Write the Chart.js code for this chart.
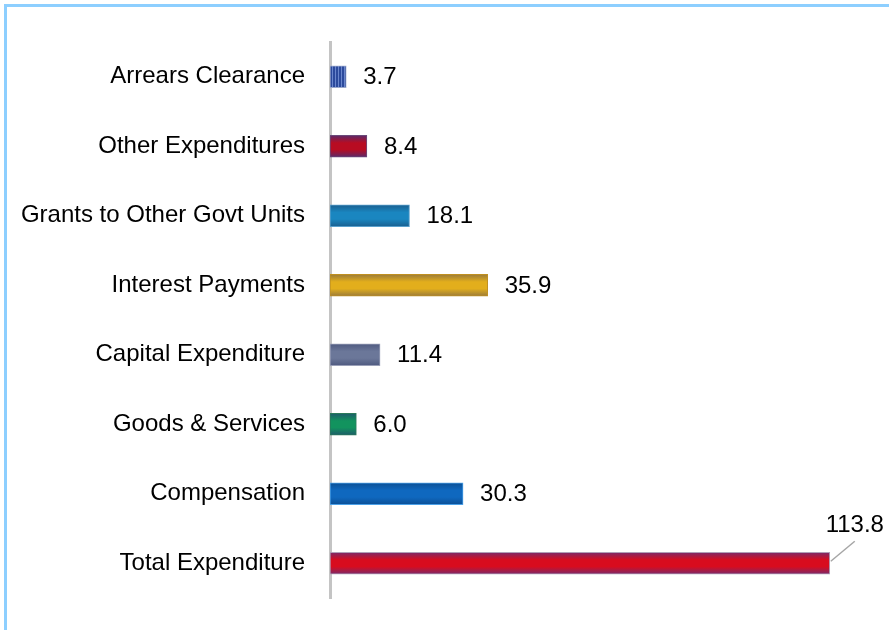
<!DOCTYPE html>
<html>
<head>
<meta charset="utf-8">
<script src="https://cdn.jsdelivr.net/npm/chart.js@4.4.0/dist/chart.umd.min.js"></script>
<style>
  html, body { margin: 0; padding: 0; background: #fff; }
  #wrap { position: relative; width: 889px; height: 630px; }
  #frame { position: absolute; left: 4px; top: 4px; right: 0; bottom: 0;
           border-top: 3px solid #8dcfff; border-left: 3px solid #8dcfff; pointer-events: none; }
  canvas { position: absolute; left: 0; top: 0; }
</style>
</head>
<body>
<div id="wrap">
  <canvas id="gasto" width="889" height="630"></canvas>
  <div id="frame"></div>
</div>
<script>
// categorias y valores
const categorias = ['Arrears Clearance', 'Other Expenditures', 'Grants to Other Govt Units',
  'Interest Payments', 'Capital Expenditure', 'Goods & Services', 'Compensation', 'Total Expenditure']
const valores = [3.7, 8.4, 18.1, 35.9, 11.4, 6.0, 30.3, 113.8]

// colores de cada barra: [centro, borde]
const centros = ['#3a5bb0', '#b80c22', '#1a86c0', '#e2ae1c', '#6b7799', '#12935e', '#0f68bf', '#d80c1e']
const bordes = ['#24408a', '#5a2a6a', '#1a5f8f', '#9a7a3a', '#4f5a80', '#1e5a6a', '#0b4f95', '#7a2a6a']
const lineas = ['#9aa8cc', '#6a4a7a', '#5aa0cc', '#c09020', '#9aa0b8', '#2a7a5a', '#4aa0e8', '#b0a0b8']

const GROSOR = 22
const FUENTE = '"Liberation Sans", Arial, sans-serif'

// patron rayado para Arrears Clearance
function rayas() {
    const c = document.createElement('canvas')
    c.width = 3
    c.height = 2
    const g = c.getContext('2d')
    g.fillStyle = '#2c4a9c'
    g.fillRect(0, 0, 3, 2)
    g.fillStyle = '#6a86cc'
    g.fillRect(2, 0, 1, 2)
    return g.createPattern(c, 'repeat')
}

function relleno(context) {
    const chart = context.chart
    const i = context.dataIndex
    if (i === 0) return rayas()
    const y = chart.scales.y
    if (!chart.chartArea || !y) return centros[i]
    const cy = y.getPixelForValue(i)
    const grad = chart.ctx.createLinearGradient(0, cy - GROSOR / 2, 0, cy + GROSOR / 2)
    grad.addColorStop(0, bordes[i])
    grad.addColorStop(0.35, centros[i])
    grad.addColorStop(0.65, centros[i])
    grad.addColorStop(1, bordes[i])
    return grad
}

// etiquetas de valor al final de cada barra
const etiquetas = {
    id: 'etiquetas',
    afterDatasetsDraw(chart) {
        const ctx = chart.ctx
        const meta = chart.getDatasetMeta(0)
        ctx.save()
        ctx.font = '24px ' + FUENTE
        ctx.fillStyle = '#000'
        ctx.textBaseline = 'middle'
        meta.data.forEach((bar, i) => {
            const texto = valores[i].toFixed(1)
            if (i === valores.length - 1) {
                // la ultima lleva una linea guia
                ctx.strokeStyle = '#a6a6a6'
                ctx.lineWidth = 1.5
                ctx.beginPath()
                ctx.moveTo(bar.x + 1, bar.y - 2)
                ctx.lineTo(bar.x + 25, bar.y - 22)
                ctx.stroke()
                ctx.textAlign = 'center'
                ctx.fillText(texto, bar.x + 25, bar.y - 38)
            } else {
                ctx.textAlign = 'left'
                ctx.fillText(texto, bar.x + 17, bar.y + 1)
            }
        })
        ctx.restore()
    }
}

const canvas = document.getElementById('gasto')

const data = {
    labels: categorias,
    datasets: [{
        data: valores,
        backgroundColor: relleno,
        borderColor: lineas,
        borderWidth: 1,
        borderSkipped: false,
        barThickness: GROSOR
    }]
}

const config = {
    type: 'bar',
    data: data,
    plugins: [etiquetas],
    options: {
        indexAxis: 'y',
        responsive: false,
        animation: false,
        layout: {
            padding: { left: 0, right: 32, top: 42, bottom: 32 }
        },
        plugins: {
            legend: { display: false },
            tooltip: { enabled: false }
        },
        scales: {
            x: {
                display: false,
                min: 0,
                max: 120
            },
            y: {
                afterFit(scale) {
                    scale.width = 330
                    scale.paddingTop = 0
                    scale.paddingBottom = 0
                },
                grid: { display: false, drawTicks: false },
                border: { display: true, color: '#c4c4c4', width: 3 },
                ticks: {
                    padding: 25,
                    color: '#000',
                    font: { family: FUENTE, size: 24 }
                }
            }
        }
    }
}

const graph = new Chart(canvas, config)
</script>
</body>
</html>
